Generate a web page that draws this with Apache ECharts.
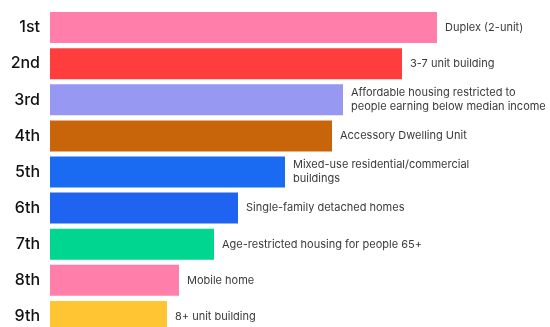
<!DOCTYPE html>
<html>
<head>
<meta charset="utf-8">
<script src="https://cdn.jsdelivr.net/npm/echarts@6/dist/echarts.min.js"></script>
<style>
  html, body { margin: 0; padding: 0; background: #fff; }
  #chart { width: 550px; height: 327px; }
</style>
</head>
<body>
<div id="chart"></div>
<script>
// ranks, housing types and bar lengths
var ranks = ['1st', '2nd', '3rd', '4th', '5th', '6th', '7th', '8th', '9th']
var types = [
  'Duplex (2-unit)',
  '3-7 unit building',
  'Affordable housing restricted to\npeople earning below median income',
  'Accessory Dwelling Unit',
  'Mixed-use residential/commercial\nbuildings',
  'Single-family detached homes',
  'Age-restricted housing for people 65+',
  'Mobile home',
  '8+ unit building'
]
var scores = [387, 352, 293, 282, 235, 188, 164, 129, 117]
var colors = ['#ff7eaa', '#ff3d3d', '#9698f2', '#c8640a', '#1a6af2', '#1e64f0', '#00d68f', '#ff7eaa', '#ffc533']

var myChart = echarts.init(document.getElementById('chart'))
myChart.setOption({
  animation: false,
  grid: { left: 50, right: 0, top: 9.5, bottom: -7.5, containLabel: false, outerBoundsMode: 'none' },
  xAxis: {
    type: 'value',
    min: 0,
    max: 500,
    show: false
  },
  yAxis: {
    type: 'category',
    inverse: true,
    data: ranks,
    axisLine: { show: false },
    axisTick: { show: false },
    axisLabel: {
      margin: 10,
      color: '#111',
      fontFamily: 'Inter',
      fontWeight: 500,
      fontSize: 16
    }
  },
  series: [{
    type: 'bar',
    barWidth: 31,
    data: scores.map(function (v, i) {
      return { value: v, itemStyle: { color: colors[i] } }
    }),
    label: {
      show: true,
      position: 'right',
      distance: 8,
      color: '#3a3a3a',
      fontFamily: 'Inter',
      fontSize: 11,
      lineHeight: 14,
      formatter: function (p) { return types[p.dataIndex] }
    }
  }]
})
</script>
</body>
</html>
